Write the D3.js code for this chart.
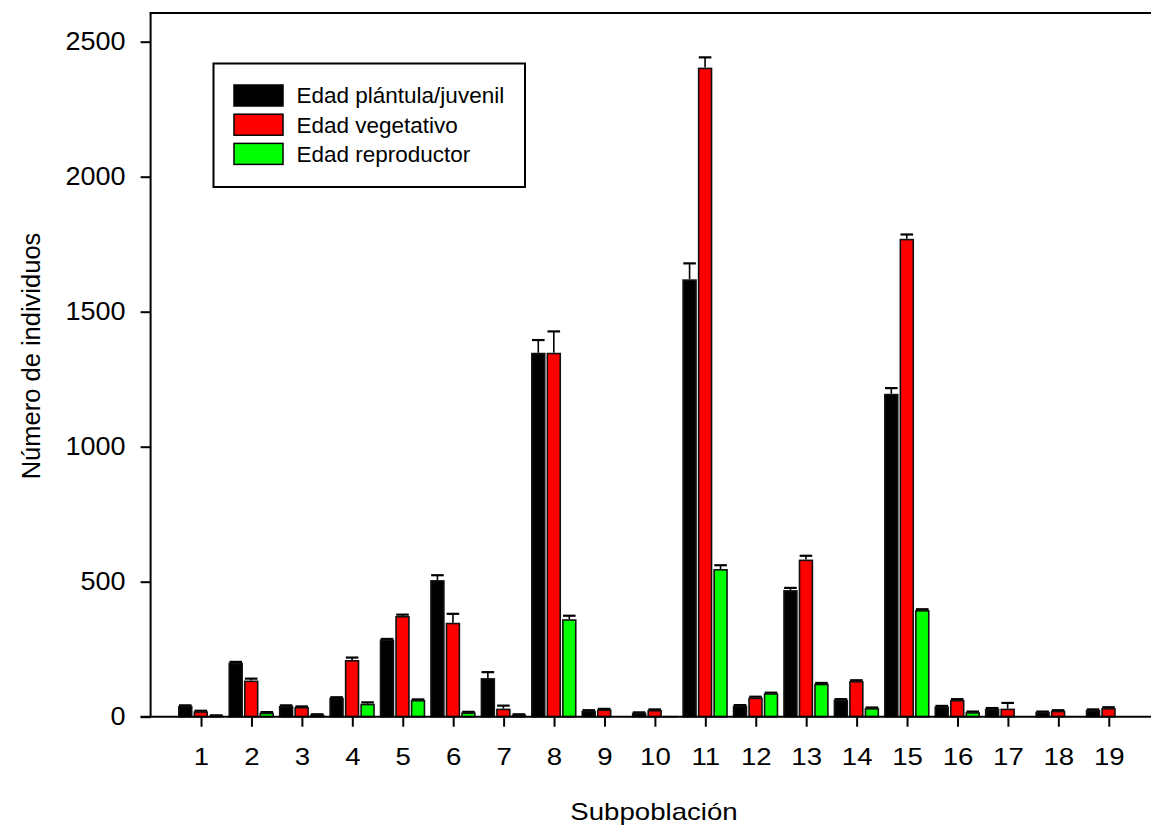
<!DOCTYPE html>
<html>
<head>
<meta charset="utf-8">
<script src="https://cdn.jsdelivr.net/npm/d3@7"></script>
<style>
  html, body { margin: 0; padding: 0; background: #fff; }
  svg { display: block; font-family: "Liberation Sans", Arial, sans-serif; }
</style>
</head>
<body>
<svg id="chart" width="1151" height="825"></svg>
<script>
// ---------------- DATA ----------------
const categories = ["1","2","3","4","5","6","7","8","9","10","11","12","13","14","15","16","17","18","19"];
const seriesNames = ["Edad plántula/juvenil", "Edad vegetativo", "Edad reproductor"];
const seriesColors = ["#000000", "#ff0000", "#00ff00"];

const juvenil     = [40, 200, 40, 70, 286, 506, 143, 1348, 22, 15, 1620, 41, 469, 63, 1196, 38, 30, 18, 25];
const juvenilErr  = [2, 3, 2, 2, 2, 18, 22, 47, 2, 1, 59, 2, 8, 2, 21, 2, 2, 1, 2];
const vegetativo    = [20, 134, 36, 210, 373, 348, 30, 1348, 27, 25, 2404, 71, 582, 132, 1770, 62, 30, 22, 32];
const vegetativoErr = [2, 7, 2, 9, 5, 33, 11, 79, 2, 2, 38, 3, 14, 3, 16, 3, 21, 2, 3];
const reproductor    = [4, 15, 8, 48, 62, 16, 8, 361, 0, 3, 547, 87, 122, 32, 395, 17, 0, 0, 0];
const reproductorErr = [1, 2, 1, 5, 2, 2, 1, 13, 0, 0, 14, 2, 3, 2, 3, 2, 0, 0, 0];

const yTicks = [0, 500, 1000, 1500, 2000, 2500];
const yTickLabels = ["0", "500", "1000", "1500", "2000", "2500"];
const xTitle = "Subpoblación";
const yTitle = "Número de individuos";

// ---------------- LAYOUT ----------------
const svg = d3.select("#chart");
const plotLeft = 150.6, plotTop = 13, plotBottom = 716.7;
const x = d3.scaleLinear().domain([0, 20]).range([plotLeft, plotLeft + 20 * 50.43]);
const y = d3.scaleLinear().domain([0, 2500]).range([plotBottom, 41.7]);
const sub = d3.scaleBand().domain(seriesNames).range([-23, 22.5]).paddingInner(1 / 15.5).paddingOuter(0);

const series = [
  { name: seriesNames[0], color: seriesColors[0], values: juvenil, errs: juvenilErr },
  { name: seriesNames[1], color: seriesColors[1], values: vegetativo, errs: vegetativoErr },
  { name: seriesNames[2], color: seriesColors[2], values: reproductor, errs: reproductorErr }
];

function stretch(sel, k) {
  sel.each(function () {
    const len = this.getComputedTextLength();
    d3.select(this).attr("textLength", len * k).attr("lengthAdjust", "spacingAndGlyphs");
  });
}

// ---------------- BARS ----------------
const sw = 1.6;
const gBars = svg.append("g");
series.forEach(s => {
  const data = categories.map((c, i) => ({ c, v: s.values[i], e: s.errs[i] }));
  const g = gBars.append("g");
  const cx = d => x(+d.c) + sub(s.name) + sub.bandwidth() / 2;
  g.selectAll("line.stem").data(data.filter(d => d.v > 0 && d.e > 0)).join("line")
    .attr("class", "stem")
    .attr("x1", cx).attr("x2", cx)
    .attr("y1", d => y(d.v))
    .attr("y2", d => y(d.v + d.e))
    .attr("stroke", "#000").attr("stroke-width", 1.6);
  g.selectAll("line.cap").data(data.filter(d => d.v > 0 && d.e > 0)).join("line")
    .attr("class", "cap")
    .attr("x1", d => cx(d) - 6.3)
    .attr("x2", d => cx(d) + 6.3)
    .attr("y1", d => y(d.v + d.e))
    .attr("y2", d => y(d.v + d.e))
    .attr("stroke", "#000").attr("stroke-width", 2.2);
  g.selectAll("rect").data(data.filter(d => d.v > 0)).join("rect")
    .attr("x", d => x(+d.c) + sub(s.name) + sw / 2)
    .attr("width", sub.bandwidth() - sw)
    .attr("y", d => y(d.v) + sw / 2)
    .attr("height", d => Math.max(0, y(0) - y(d.v) - sw / 2))
    .attr("fill", s.color)
    .attr("stroke", "#111").attr("stroke-width", sw);
});

// ---------------- AXES ----------------
const yAxis = d3.axisLeft(y).tickValues(yTicks).tickFormat((d, i) => yTickLabels[i])
  .tickSize(10).tickPadding(15).tickSizeOuter(0);
const gy = svg.append("g").attr("transform", `translate(${plotLeft},0)`).call(yAxis);
gy.select(".domain").remove();
gy.selectAll(".tick line").attr("stroke", "#000").attr("stroke-width", 2);
gy.selectAll(".tick text").attr("font-size", 25).attr("fill", "#000")
  .attr("font-family", "Liberation Sans, Arial, sans-serif");
stretch(gy.selectAll(".tick text"), 1.08);

const xAxis = d3.axisBottom(x).tickValues(categories.map(Number)).tickFormat((d, i) => categories[i])
  .tickSize(10).tickPadding(21).tickSizeOuter(0);
const gx = svg.append("g").attr("transform", `translate(0,${plotBottom})`).call(xAxis);
gx.select(".domain").remove();
gx.selectAll(".tick line").attr("stroke", "#000").attr("stroke-width", 2);
gx.selectAll(".tick text").attr("font-size", 24).attr("fill", "#000")
  .attr("font-family", "Liberation Sans, Arial, sans-serif");
stretch(gx.selectAll(".tick text"), 1.15);

// frame lines
svg.append("line").attr("x1", plotLeft).attr("x2", plotLeft).attr("y1", plotTop).attr("y2", plotBottom)
  .attr("stroke", "#000").attr("stroke-width", 2);
svg.append("line").attr("x1", plotLeft - 10).attr("x2", x(20)).attr("y1", plotBottom).attr("y2", plotBottom)
  .attr("stroke", "#000").attr("stroke-width", 2);
svg.append("line").attr("x1", plotLeft - 1).attr("x2", x(20)).attr("y1", plotTop).attr("y2", plotTop)
  .attr("stroke", "#000").attr("stroke-width", 2);

// titles
const xt = svg.append("text").attr("x", 654).attr("y", 820).attr("text-anchor", "middle")
  .attr("font-size", 24).attr("fill", "#000").text(xTitle);
stretch(xt, 1.15);
svg.append("text").attr("transform", "translate(40,356) rotate(-90)").attr("text-anchor", "middle")
  .attr("font-size", 25.5).attr("fill", "#000").text(yTitle);

// ---------------- LEGEND ----------------
const lg = svg.append("g");
lg.append("rect").attr("x", 213.5).attr("y", 63.5).attr("width", 311.5).attr("height", 123.5)
  .attr("fill", "#fff").attr("stroke", "#000").attr("stroke-width", 2);
const items = lg.selectAll("g.item").data(series).join("g").attr("class", "item")
  .attr("transform", (d, i) => `translate(234,${85 + i * 29.2})`);
items.append("rect").attr("x", 0).attr("y", 0).attr("width", 49).attr("height", 21)
  .attr("fill", d => d.color).attr("stroke", "#000").attr("stroke-width", 1.5);
items.append("text").attr("x", 62.5).attr("y", 18.3).attr("font-size", 22.5).attr("fill", "#000")
  .text(d => d.name);
</script>
</body>
</html>
